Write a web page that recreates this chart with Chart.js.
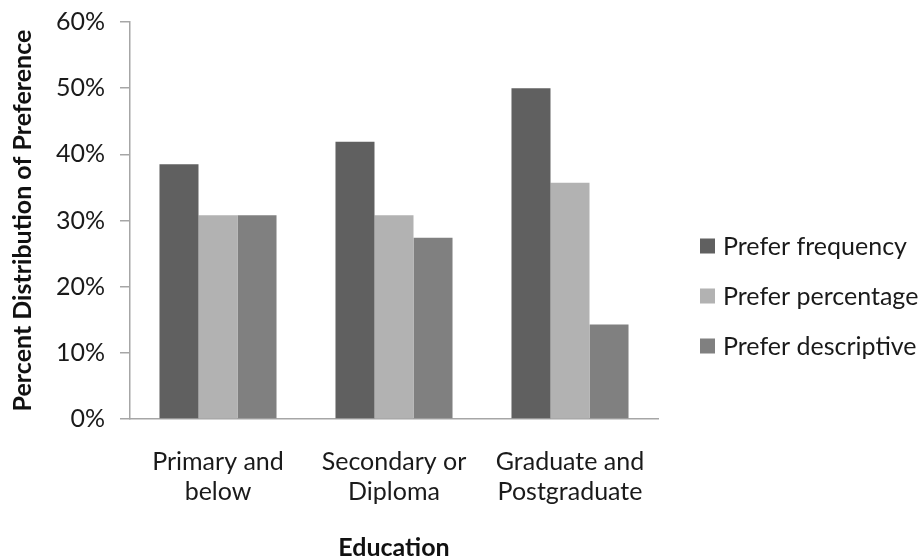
<!DOCTYPE html>
<html>
<head>
<meta charset="utf-8">
<script src="https://cdn.jsdelivr.net/npm/chart.js@4/dist/chart.umd.min.js"></script>
<style>
  html, body { margin: 0; padding: 0; background: #fff; }
  #wrap { width: 921px; height: 560px; }
</style>
</head>
<body>
<div id="wrap"><canvas id="c" width="921" height="560"></canvas></div>
<script>
const categories = [['Primary and', 'below'], ['Secondary or', 'Diploma'], ['Graduate and', 'Postgraduate']];
const preferFrequency = [38.5, 41.9, 50.0];
const preferPercentage = [30.8, 30.8, 35.7];
const preferDescriptive = [30.8, 27.4, 14.3];
const yTicks = [0, 10, 20, 30, 40, 50, 60];

const FONT = 'Lato, "Open Sans", sans-serif';
const axisColor = '#a6a6a6';

// legend drawn on the right, same look as the office chart
const sideLegend = {
    id: 'sideLegend',
    afterDraw(chart) {
        const ctx = chart.ctx;
        ctx.save();
        ctx.font = '25px ' + FONT;
        ctx.textBaseline = 'middle';
        chart.data.datasets.forEach((ds, i) => {
            const y = 246 + i * 50;
            ctx.fillStyle = ds.backgroundColor;
            ctx.fillRect(700, y - 7.5, 15, 15);
            ctx.fillStyle = '#1a1a1a';
            ctx.fillText(ds.label, 723, y + 1);
        });
        ctx.restore();
    }
};

new Chart(document.getElementById('c'), {
    type: 'bar',
    data: {
        labels: categories,
        datasets: [
            { label: 'Prefer frequency', data: preferFrequency, backgroundColor: '#606060' },
            { label: 'Prefer percentage', data: preferPercentage, backgroundColor: '#b2b2b2' },
            { label: 'Prefer descriptive', data: preferDescriptive, backgroundColor: '#808080' }
        ]
    },
    options: {
        responsive: false,
        animation: false,
        layout: { padding: { top: 0, right: 263, left: 0, bottom: 0 } },
        datasets: { bar: { categoryPercentage: 0.665, barPercentage: 1.0 } },
        plugins: { legend: { display: false }, tooltip: { enabled: false } },
        scales: {
            x: {
                grid: { display: false, drawTicks: false },
                border: { display: true, color: axisColor, width: 1.5 },
                ticks: { color: '#1a1a1a', font: { family: FONT, size: 25, lineHeight: 1.2 }, padding: 28, maxRotation: 0 },
                title: { display: true, text: 'Education', color: '#111', font: { family: FONT, size: 25, weight: 'bold', lineHeight: 1.0 }, padding: { top: 14, bottom: 0 } },
                afterFit: s => { s.height = 141; }
            },
            y: {
                min: 0,
                max: 60,
                afterBuildTicks: s => { s.ticks = yTicks.map(v => ({ value: v })); },
                grid: { drawOnChartArea: false, drawTicks: true, tickLength: 10, color: axisColor, lineWidth: 1.5 },
                border: { display: true, color: axisColor, width: 1.5 },
                ticks: { color: '#1a1a1a', font: { family: FONT, size: 25 }, padding: 15, callback: v => v + '%' },
                title: { display: true, text: 'Percent Distribution of Preference', color: '#111', font: { family: FONT, size: 25, weight: 'bold' }, padding: { top: 8, bottom: 4 } },
                afterFit: s => { s.width = 130; s.paddingTop = 22; }
            }
        }
    },
    plugins: [sideLegend]
});
</script>
</body>
</html>
